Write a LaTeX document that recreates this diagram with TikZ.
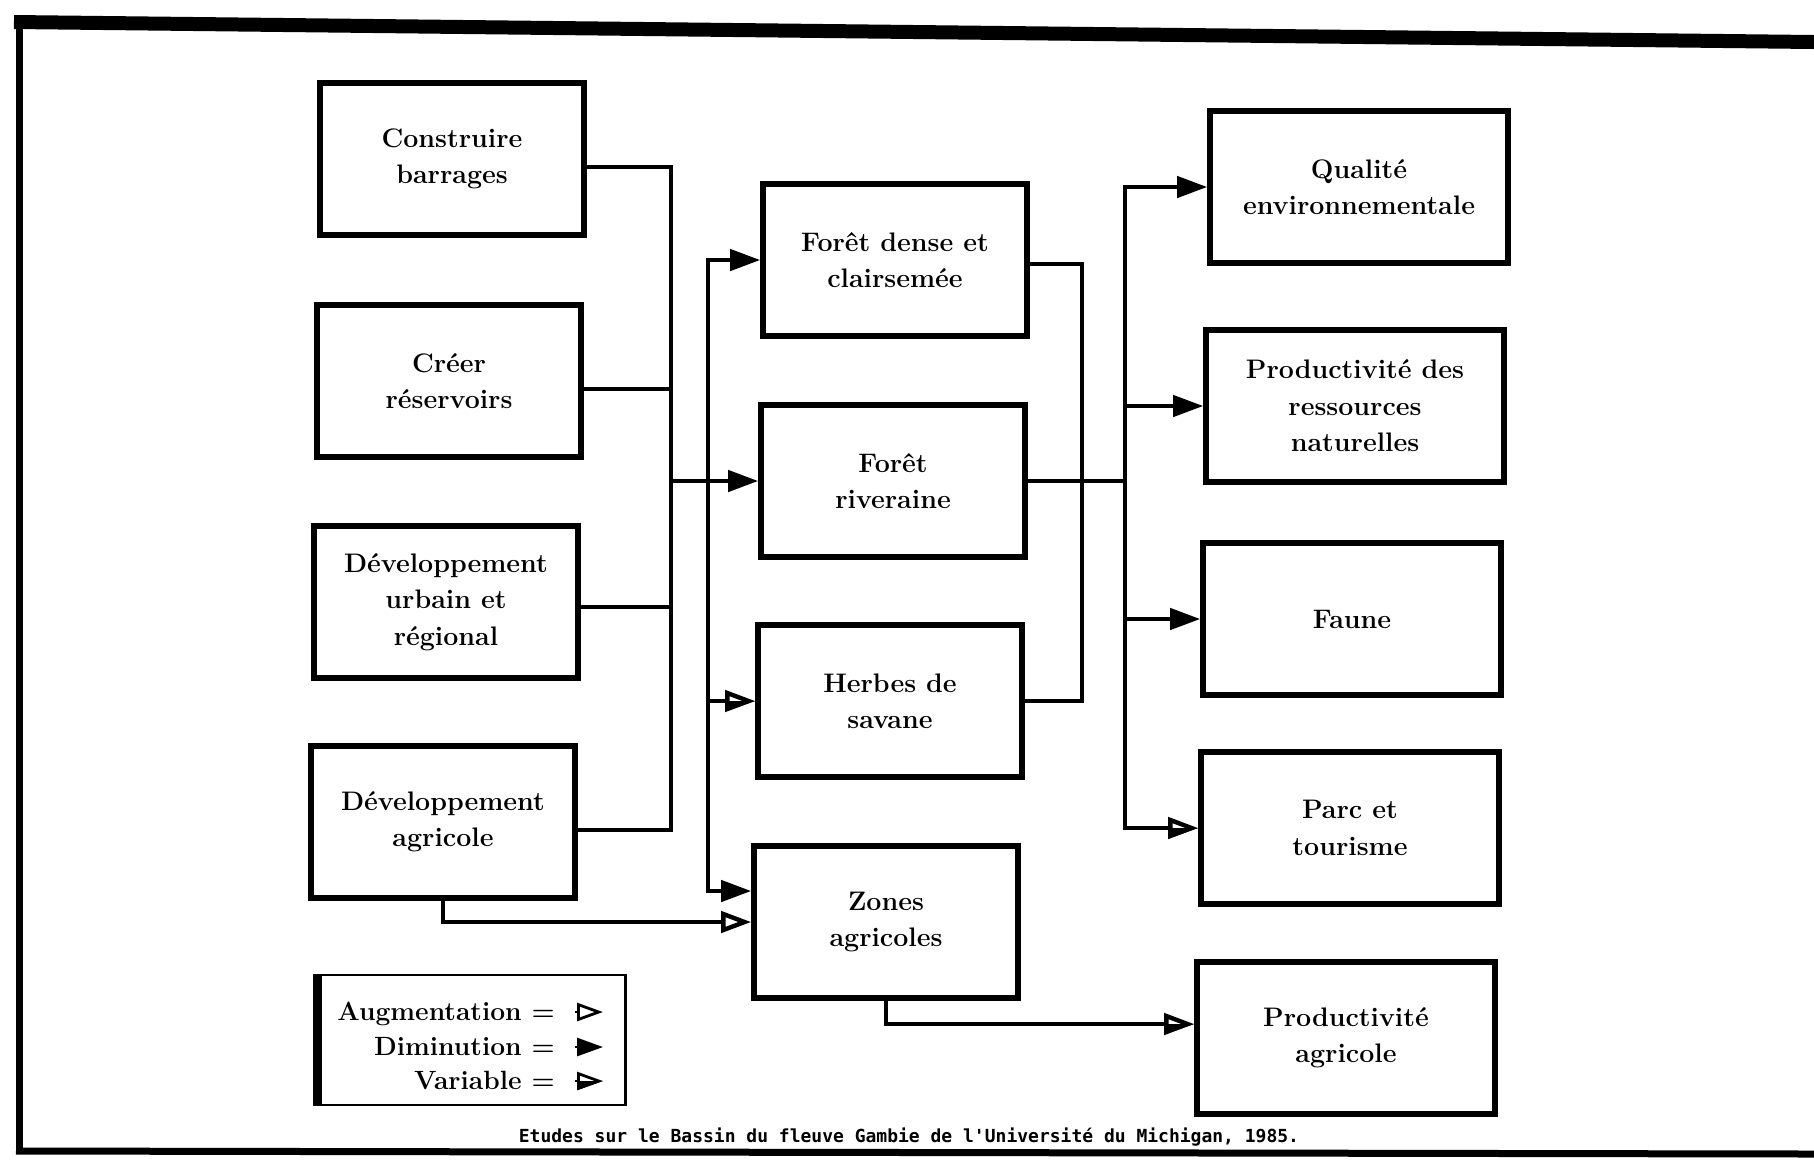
\documentclass[tikz,border=0pt]{standalone}
\usepackage{fontspec}
\usepackage{tikz}
\usetikzlibrary{shapes.geometric, positioning, calc}
\usetikzlibrary{arrows.meta}
\newfontfamily\captionfont{DejaVu Sans Mono}

\begin{document}
\begin{tikzpicture}[
                x=0.5pt, y=-0.5pt,
                block/.style={rectangle, draw, line width=2.8pt, minimum width=132pt, minimum height=76pt, align=center, font=\fontsize{13.4}{18.2}\selectfont\bfseries},
                wideblock/.style={block, minimum width=149pt},
                legtext/.style={anchor=base east, inner sep=0pt, font=\fontsize{13.2}{15}\selectfont\bfseries},
                conn/.style={draw, line width=2.2pt},
                line/.style={conn, -{Triangle[length=15pt, width=10.5pt]}},
                openline/.style={conn, -{Triangle[open, length=15pt, width=10.5pt]}},
                legfull/.style={draw, line width=1.4pt, -{Triangle[length=13pt, width=9pt]}},
                legopen/.style={draw, line width=1.4pt, -{Triangle[open, length=13pt, width=9pt]}},
                varhalf/.pic={\fill (0,0) -- (-15pt,0) -- (-15pt,-5.2pt) -- cycle;},
                leghalf/.pic={\fill (0,0) -- (-13pt,0) -- (-13pt,-4.5pt) -- cycle;}
            ]
                \useasboundingbox (0,0) rectangle (1814,1175);

                % Frame
                \draw[line width=7pt] (14,22) -- (1814,42);
                \draw[line width=3.5pt] (19,18) -- (19,1153);
                \draw[line width=3.5pt] (16,1151) -- (1814,1154);

                % Activities
                \node[block] (act1) at (452,159) {Construire \\ barrages};
                \node[block] (act2) at (449,381) {Créer \\ réservoirs};
                \node[block] (act3) at (446,602) {Développement \\ urbain et \\ régional};
                \node[block] (act4) at (443,822) {Développement \\ agricole};

                % Vegetation
                \node[block] (veg1) at (895,260) {Forêt dense et \\ clairsemée};
                \node[block] (veg2) at (893,481) {Forêt \\ riveraine};
                \node[block] (veg3) at (890,701) {Herbes de \\ savane};
                \node[block] (veg4) at (886,922) {Zones \\ agricoles};

                % Effects
                \node[wideblock] (eff1) at (1359,187) {Qualité \\ environnementale};
                \node[wideblock] (eff2) at (1355,406) {Productivité des \\ ressources \\ naturelles};
                \node[wideblock] (eff3) at (1352,619) {Faune};
                \node[wideblock] (eff4) at (1350,828) {Parc et \\ tourisme};
                \node[wideblock] (eff5) at (1346,1038) {Productivité \\ agricole};

                \coordinate (busL) at (671,481);
                \coordinate (busM) at (708,481);
                \coordinate (busD) at (1082,481);
                \coordinate (busR) at (1125,481);
                \coordinate (in4) at ($(veg4.west)+(0,-31)$);
                \coordinate (in5) at ($(eff5.west)+(0,-14)$);

                \path[conn] ([yshift=-4pt]act1.east) -| (busL);
                \path[conn] ([yshift=-4pt]act2.east) -| (busL);
                \path[conn] ([yshift=-2.5pt]act3.east) -| (busL);
                \path[conn] ([yshift=-4pt]act4.east) -| (busL);
                \path[line] (busL) -- (veg2.west);
                \path[line] (busM) |- (veg1.west);
                \path[openline] (busM) |- (veg3.west);
                \pic at (veg3.west) {varhalf};
                \path[line] (busM) |- (in4);
                \path[openline] (act4.south) |- (veg4.west);

                \path[conn] ([yshift=-2pt]veg1.east) -| (busD) |- (veg3.east);
                \path[conn] (veg2.east) -- (busR);
                \path[line] (busR) |- (eff1.west);
                \path[line] (busR) |- (eff2.west);
                \path[line] (busR) |- (eff3.west);
                \path[openline] (busR) |- (eff4.west);
                \pic at (eff4.west) {varhalf};
                \path[openline] (veg4.south) |- (in5);
                \pic at (in5) {varhalf};

                % Legend
                \node[draw, line width=1.4pt, minimum width=153.5pt, minimum height=65pt] (leg) at (472,1040) {};
                \draw[line width=4.5pt] (leg.north west) -- (leg.south west);
                \node[legtext] (aug) at (555,1020) {Augmentation =};
                \node[legtext] (dim) at (555,1055) {Diminution =};
                \node[legtext] (var) at (555,1089) {Variable =};
                \path[legopen] ([xshift=10pt,yshift=4pt]aug.base east) -- ++(14pt,0);
                \path[legfull] ([xshift=10pt,yshift=4pt]dim.base east) -- ++(14pt,0);
                \path[legopen] ([xshift=10pt,yshift=4pt]var.base east) -- ++(14pt,0);
                \pic at ([xshift=24pt,yshift=4pt]var.base east) {leghalf};

                % Source
                \node[font=\captionfont\bfseries\fontsize{9}{11}\selectfont] (src) at (909,1137) {Etudes sur le Bassin du fleuve Gambie de l'Université du Michigan, 1985.};
            \end{tikzpicture}
\end{document}
